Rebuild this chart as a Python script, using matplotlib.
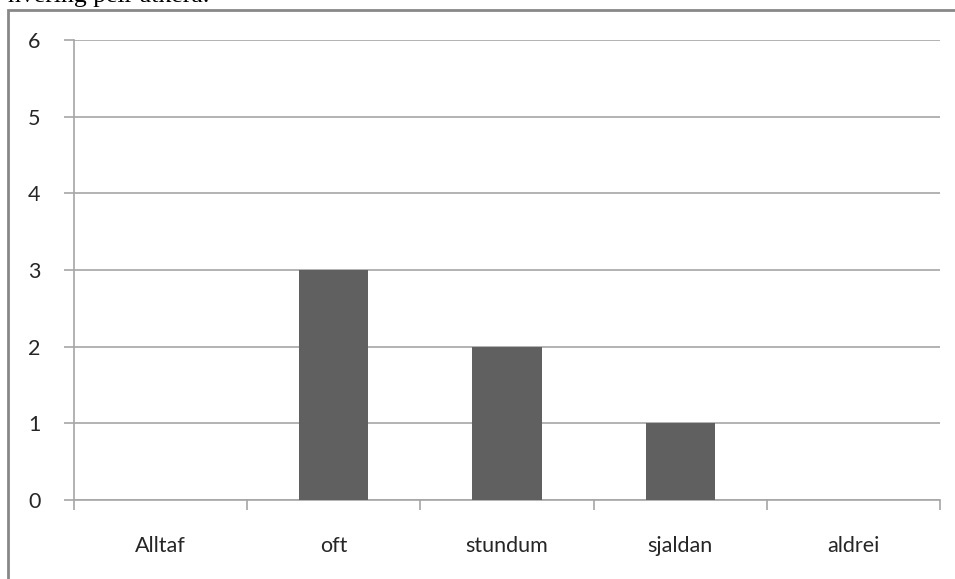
import matplotlib.pyplot as plt
from matplotlib.patches import Rectangle

# Data
categories = ['Alltaf', 'oft', 'stundum', 'sjaldan', 'aldrei']
counts = [0, 3, 2, 1, 0]
y_ticks = [0, 1, 2, 3, 4, 5, 6]

plt.rcParams['font.family'] = ['Lato', 'DejaVu Sans']

W, H = 955, 579
fig = plt.figure(figsize=(W / 100, H / 100), dpi=100)

# axes placed in pixel coordinates of the reference
left, right, top, bottom = 74, 940, 40, 500
ax = fig.add_axes([left / W, 1 - bottom / H, (right - left) / W, (bottom - top) / H])

x = list(range(len(categories)))
ax.bar(x, counts, width=0.4, color='#606060', zorder=3)

ax.set_xlim(-0.5, len(categories) - 0.5)
ax.set_ylim(0, 6)
ax.set_yticks(y_ticks)
ax.set_yticklabels([str(v) for v in y_ticks])
ax.set_xticks(x)
ax.set_xticklabels(categories)
ax.set_xticks([i - 0.5 for i in range(len(categories) + 1)], minor=True)

grid_col = '#a6a6a6'
ax.grid(axis='y', color=grid_col, linewidth=1.2, zorder=0)
for side in ['top', 'right']:
    ax.spines[side].set_visible(False)
for side in ['left', 'bottom']:
    ax.spines[side].set_color(grid_col)
    ax.spines[side].set_linewidth(1.2)

ax.tick_params(axis='y', length=7, width=1.2, color=grid_col, pad=17,
               labelsize=15.5, labelcolor='#262626')
ax.tick_params(axis='x', which='major', length=0, pad=26,
               labelsize=15.5, labelcolor='#262626')
ax.tick_params(axis='x', which='minor', length=7, width=1.2, color=grid_col)

# outer chart frame (cut off at right and bottom in the reference)
frame = Rectangle((8 / W, -0.1), 1.1, 1 - 10 / H + 0.1, transform=fig.transFigure,
                  fill=False, edgecolor='#888888', linewidth=2, clip_on=False)
fig.add_artist(frame)

# document text partly cut off above the chart
fig.text(8 / W, 1 - 2 / H, 'hvering þeir atkera.', family=['Liberation Serif'],
         fontsize=18.5, va='baseline', ha='left', color='black')

fig.savefig('out.png', dpi=100)
